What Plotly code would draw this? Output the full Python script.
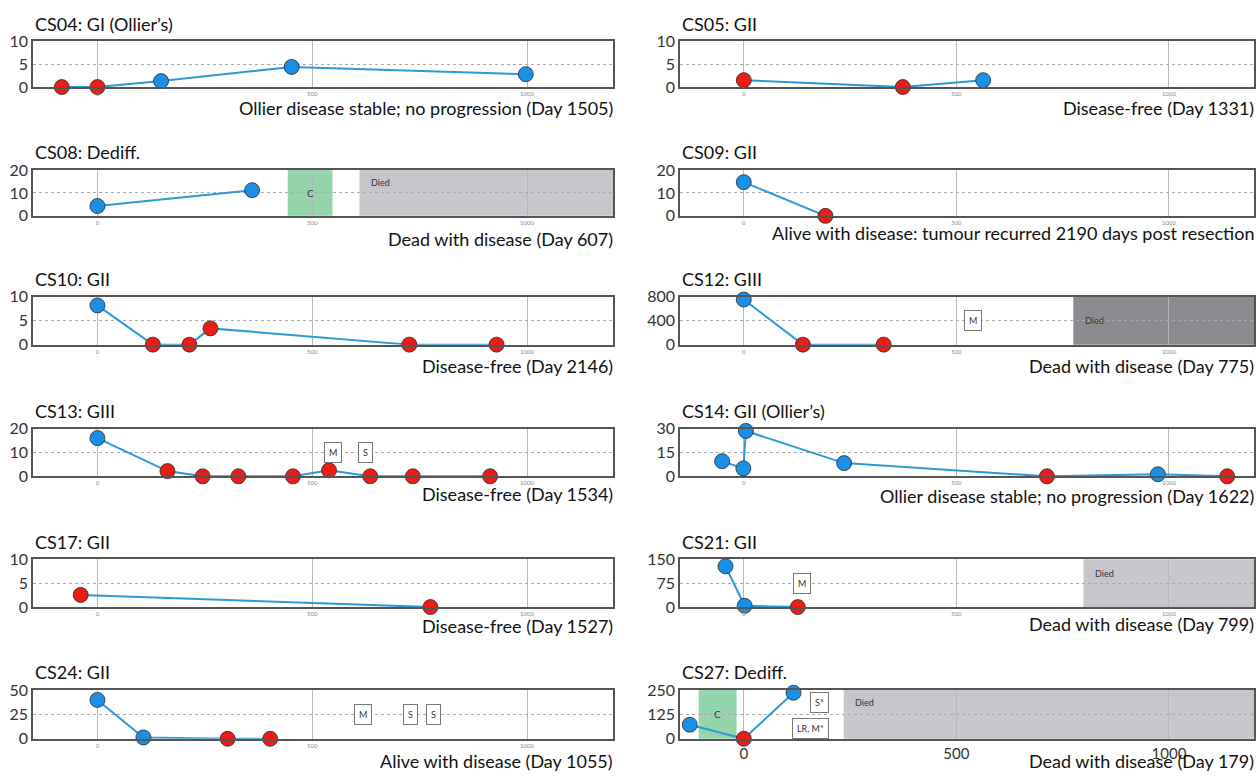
import plotly.graph_objects as go

W, H = 1256, 779

# ---------------- data (days from resection, tumour size, point type) ----------------
cs04_day = [-83, 0, 148, 452, 997]
cs04_val = [0, 0, 1.3, 4.4, 2.8]
cs04_typ = ["R", "R", "B", "B", "B"]

cs05_day = [0, 374, 563]
cs05_val = [1.5, 0, 1.5]
cs05_typ = ["R", "R", "B"]

cs08_day = [0, 360]
cs08_val = [4.3, 11.2]
cs08_typ = ["B", "B"]

cs09_day = [0, 192]
cs09_val = [14.7, 0]
cs09_typ = ["B", "R"]

cs10_day = [0, 129, 214, 263, 726, 929]
cs10_val = [8.2, 0, 0, 3.4, 0, 0]
cs10_typ = ["B", "R", "R", "R", "R", "R"]

cs12_day = [0, 139, 329]
cs12_val = [755, 0, 0]
cs12_typ = ["B", "R", "R"]

cs13_day = [0, 163, 245, 328, 455, 539, 635, 734, 914]
cs13_val = [16, 2.2, 0, 0, 0, 2.5, 0, 0, 0]
cs13_typ = ["B", "R", "R", "R", "R", "R", "R", "R", "R"]

cs14_day = [-51, -1, 5, 236, 713, 974, 1137]
cs14_val = [9.5, 5, 28.5, 8.3, 0, 1.3, 0]
cs14_typ = ["B", "B", "B", "B", "R", "B", "R"]

cs17_day = [-39, 775]
cs17_val = [2.55, 0]
cs17_typ = ["R", "R"]

cs21_day = [-43, 2, 127]
cs21_val = [128, 4, 0]
cs21_typ = ["B", "B", "R"]

cs24_day = [0, 107, 303, 402]
cs24_val = [39.8, 1.4, 0, 0]
cs24_typ = ["B", "B", "R", "R"]

cs27_day = [-127, 0, 117]
cs27_val = [72, 0, 236]
cs27_typ = ["B", "R", "B"]

# events (label, day)
cs12_events = [("M", 540)]
cs13_events = [("M", 548), ("S", 625)]
cs21_events = [("M", 137)]
cs24_events = [("M", 617), ("S", 729), ("S", 782)]
cs27_events = [("S*", 178), ("LR, M*", 158)]

# death day / chemotherapy periods
cs08_died = 610
cs08_chemo = (443, 547)
cs12_died = 775
cs21_died = 799
cs27_died = 235
cs27_chemo = (-106, -17)

titles = {
    "CS04": "CS04: GI (Ollier\u2019s)", "CS05": "CS05: GII", "CS08": "CS08: Dediff.",
    "CS09": "CS09: GII", "CS10": "CS10: GII", "CS12": "CS12: GIII",
    "CS13": "CS13: GIII", "CS14": "CS14: GII (Ollier\u2019s)", "CS17": "CS17: GII",
    "CS21": "CS21: GII", "CS24": "CS24: GII", "CS27": "CS27: Dediff.",
}
outcomes = {
    "CS04": "Ollier disease stable; no progression (Day 1505)",
    "CS05": "Disease-free (Day 1331)",
    "CS08": "Dead with disease (Day 607)",
    "CS09": "Alive with disease: tumour recurred 2190 days post resection",
    "CS10": "Disease-free (Day 2146)",
    "CS12": "Dead with disease (Day 775)",
    "CS13": "Disease-free (Day 1534)",
    "CS14": "Ollier disease stable; no progression (Day 1622)",
    "CS17": "Disease-free (Day 1527)",
    "CS21": "Dead with disease (Day 799)",
    "CS24": "Alive with disease (Day 1055)",
    "CS27": "Dead with disease (Day 179)",
}
ymax = {"CS04": 10, "CS05": 10, "CS08": 20, "CS09": 20, "CS10": 10, "CS12": 800,
        "CS13": 20, "CS14": 30, "CS17": 10, "CS21": 150, "CS24": 50, "CS27": 250}
x_ticks = [0, 500, 1000]

series = {
    "CS04": (cs04_day, cs04_val, cs04_typ), "CS05": (cs05_day, cs05_val, cs05_typ),
    "CS08": (cs08_day, cs08_val, cs08_typ), "CS09": (cs09_day, cs09_val, cs09_typ),
    "CS10": (cs10_day, cs10_val, cs10_typ), "CS12": (cs12_day, cs12_val, cs12_typ),
    "CS13": (cs13_day, cs13_val, cs13_typ), "CS14": (cs14_day, cs14_val, cs14_typ),
    "CS17": (cs17_day, cs17_val, cs17_typ), "CS21": (cs21_day, cs21_val, cs21_typ),
    "CS24": (cs24_day, cs24_val, cs24_typ), "CS27": (cs27_day, cs27_val, cs27_typ),
}

# ---------------- layout geometry ----------------
left_col = ["CS04", "CS08", "CS10", "CS13", "CS17", "CS24"]
right_col = ["CS05", "CS09", "CS12", "CS14", "CS21", "CS27"]
tops = [32, 164, 294, 429, 563, 697]
bots = [79, 211, 343, 478, 612, 747]
col_x = [(33, 613), (680, 1254)]
out_off = {"CS04": 21, "CS05": 21, "CS08": 24, "CS09": 18, "CS10": 22, "CS12": 22,
           "CS13": 18, "CS14": 20, "CS17": 19, "CS21": 17, "CS24": 23, "CS27": 23}
event_y = {"S*": 0.75, "LR, M*": 0.22}

FONT = "Lato, 'Open Sans', sans-serif"
BLUE = "#1a8fe6"
RED = "#ec1c16"
LINE = "#2b9ad9"
DIED_LIGHT = "#c6c6cb"
DIED_DARK = "#8c8c90"
GREEN = "#95d5ab"

fig = go.Figure()
annotations = []
shapes = []
layout = {}

idx = 0
for c, col in enumerate([left_col, right_col]):
    for r, pid in enumerate(col):
        idx += 1
        xa = "x" if idx == 1 else f"x{idx}"
        ya = "y" if idx == 1 else f"y{idx}"
        xk = "xaxis" if idx == 1 else f"xaxis{idx}"
        yk = "yaxis" if idx == 1 else f"yaxis{idx}"
        x0p, x1p = col_x[c]
        top, bot = tops[r], bots[r]
        ym = ymax[pid]
        big = pid == "CS27"
        layout[xk] = dict(
            domain=[x0p / W, x1p / W], anchor=ya, range=[-150, 1200],
            tickvals=x_ticks, ticktext=[str(v) for v in x_ticks],
            tickfont=dict(size=15 if big else 6, color="#333" if big else "#888", family=FONT),
            showgrid=True, gridcolor="#b8b8b8", gridwidth=1,
            showline=True, linecolor="#555", linewidth=1.5, mirror=True,
            zeroline=False, ticks="", fixedrange=True,
        )
        layout[yk] = dict(
            domain=[1 - bot / H, 1 - top / H], anchor=xa, range=[0, ym],
            tickvals=[0, ym / 2, ym], ticktext=[f"{v:g}" for v in [0, ym / 2, ym]],
            tickfont=dict(size=16, color="#333", family=FONT),
            showgrid=True, gridcolor="#aaaaaa", gridwidth=1, griddash="dot",
            showline=True, linecolor="#555", linewidth=1.5, mirror=True,
            zeroline=False, ticks="", fixedrange=True,
        )
        d, v, t = series[pid]
        fig.add_trace(go.Scatter(
            x=d, y=v, xaxis=xa, yaxis=ya, mode="lines+markers",
            line=dict(color=LINE, width=2),
            marker=dict(size=15, color=[BLUE if k == "B" else RED for k in t],
                        line=dict(color="#2a2a2a", width=0.8)),
            cliponaxis=False, showlegend=False, hoverinfo="x+y",
        ))
        # title
        annotations.append(dict(
            text=titles[pid], xref="paper", yref="paper", x=x0p / W, y=1 - (top - 18) / H,
            xanchor="left", yanchor="middle", showarrow=False,
            font=dict(size=18, color="#111", family=FONT),
        ))
        # outcome
        annotations.append(dict(
            text=outcomes[pid], xref="paper", yref="paper", x=min(x1p + 2, W) / W,
            y=1 - (bot + out_off[pid]) / H, xanchor="right", yanchor="middle",
            showarrow=False, font=dict(size=18, color="#111", family=FONT),
        ))

        def died(x0, color, ytxt):
            shapes.append(dict(type="rect", xref=xa, yref=f"{ya} domain", x0=x0, x1=1200,
                               y0=0, y1=1, fillcolor=color, line=dict(width=0), layer="below"))
            annotations.append(dict(text="Died", xref=xa, yref=f"{ya} domain", x=x0 + 22, y=ytxt,
                                    xanchor="left", yanchor="middle", showarrow=False,
                                    font=dict(size=9, color="#333", family=FONT)))

        def chemo(rng):
            shapes.append(dict(type="rect", xref=xa, yref=f"{ya} domain", x0=rng[0], x1=rng[1],
                               y0=0, y1=1, fillcolor=GREEN, line=dict(width=0), layer="below"))
            annotations.append(dict(text="C", xref=xa, yref=f"{ya} domain", x=(rng[0] + rng[1]) / 2,
                                    y=0.5, xanchor="center", yanchor="middle", showarrow=False,
                                    font=dict(size=10, color="#333", family=FONT)))

        def events(evs):
            for lab, day in evs:
                annotations.append(dict(text=lab, xref=xa, yref=f"{ya} domain", x=day,
                                        y=event_y.get(lab, 0.5), xanchor="center", yanchor="middle",
                                        showarrow=False, bgcolor="white", bordercolor="#777",
                                        borderwidth=1, borderpad=4,
                                        font=dict(size=9, color="#333", family=FONT)))

        if pid == "CS08":
            chemo(cs08_chemo)
            died(cs08_died, DIED_LIGHT, 0.72)
        if pid == "CS12":
            died(cs12_died, DIED_DARK, 0.5)
            events(cs12_events)
        if pid == "CS13":
            events(cs13_events)
        if pid == "CS21":
            died(cs21_died, DIED_LIGHT, 0.7)
            events(cs21_events)
        if pid == "CS24":
            events(cs24_events)
        if pid == "CS27":
            chemo(cs27_chemo)
            died(cs27_died, DIED_LIGHT, 0.75)
            events(cs27_events)

fig.update_layout(
    width=W, height=H, margin=dict(l=0, r=0, t=0, b=0),
    paper_bgcolor="white", plot_bgcolor="white",
    font=dict(family=FONT), annotations=annotations, shapes=shapes,
    showlegend=False, **layout,
)
fig.write_html(
    "out.html",
    config={"displayModeBar": False},
    post_script="document.body.style.margin='0';document.body.style.overflow='hidden';",
)
